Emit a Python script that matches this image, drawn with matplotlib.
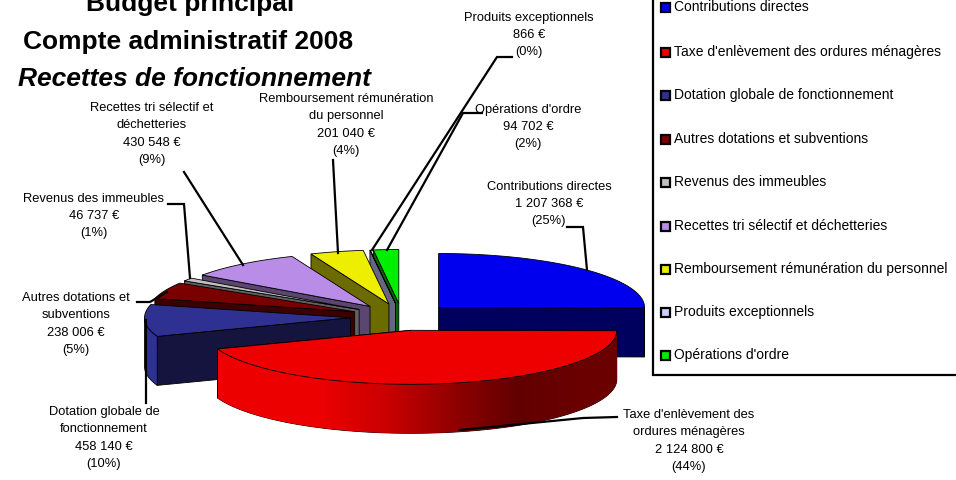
import numpy as np
import matplotlib
matplotlib.use("Agg")
import matplotlib.pyplot as plt
from matplotlib.patches import Polygon, Rectangle

plt.rcParams["font.family"] = ["Liberation Sans", "DejaVu Sans"]

# --- Data ---
categories = ["Contributions directes", "Taxe d'enlèvement des ordures ménagères",
              "Dotation globale de fonctionnement", "Autres dotations et subventions",
              "Revenus des immeubles", "Recettes tri sélectif et déchetteries",
              "Remboursement rémunération du personnel", "Produits exceptionnels",
              "Opérations d'ordre"]
values = [1207368, 2124800, 458140, 238006, 46737, 430548, 201040, 866, 94702]
wrapped = ["Contributions directes", "Taxe d'enlèvement des\nordures ménagères",
           "Dotation globale de\nfonctionnement", "Autres dotations et\nsubventions",
           "Revenus des immeubles", "Recettes tri sélectif et\ndéchetteries",
           "Remboursement rémunération\ndu personnel", "Produits exceptionnels",
           "Opérations d'ordre"]
title_lines = ["Budget principal", "Compte administratif 2008", "Recettes de fonctionnement"]

# --- Colours ---
top_colors = ["#0000EE", "#EE0000", "#2E3192", "#7A0000", "#C0C0C0", "#B98CE8", "#EEEE00", "#CCCCFF", "#00EE00"]
wall_colors = ["#00005F", "#5F0000", "#14143F", "#3D0000", "#606060", "#5A4670", "#6B6B00", "#666680", "#006600"]

# --- Pie geometry (pixels) ---
cx, cy = 402, 317
rx, ry = 206, 54
depth = 49
explode = 0.25

total = sum(values)
edges = np.concatenate([[0], np.cumsum(values)]) / total * 360


def rim(a, x0, y0):
    r = np.radians(a)
    return x0 + rx * np.sin(r), y0 - ry * np.cos(r)


def arc(a1, a2, x0, y0):
    x, y = rim(np.linspace(a1, a2, max(int(a2 - a1) * 2, 2)), x0, y0)
    return list(zip(x, y))


def poly(ax, pts, color, zorder):
    p = Polygon(pts, closed=True, facecolor=color, edgecolor="black", lw=0.6, zorder=zorder)
    ax.add_patch(p)
    return p


fig = plt.figure(figsize=(9.56, 4.8), dpi=100)
ax = fig.add_axes([0, 0, 1, 1])
ax.set_xlim(0, 956)
ax.set_ylim(480, 0)
ax.axis("off")

# back to front, same order as the slices are stacked in the picture
order = [8, 7, 6, 5, 4, 3, 2, 0, 1]
z = 2
for i in order:
    a1, a2 = edges[i], edges[i + 1]
    mid = (a1 + a2) / 2
    x0, y0 = rim(mid, cx, cy)
    x0 = cx + (x0 - cx) * explode
    y0 = cy + (y0 - cy) * explode

    # cut face turned to the viewer
    a = a1 if mid > 180 else a2
    ex, ey = rim(a, x0, y0)
    poly(ax, [(x0, y0), (ex, ey), (ex, ey + depth), (x0, y0 + depth)], wall_colors[i], z)

    # outer wall, only the lower half of the ellipse shows
    lo, hi = max(a1, 90), min(a2, 270)
    if hi > lo:
        pts = arc(lo, hi, x0, y0)
        low = [(px, py + depth) for px, py in pts[::-1]]
        wall = poly(ax, pts + low, top_colors[i], z)
        if i == 1:
            # red wall fades from bright on the left to dark on the right
            grad = np.array([[0.93, 0.93, 0.8, 0.58, 0.38, 0.42]])
            rgb = np.zeros((1, grad.shape[1], 3))
            rgb[..., 0] = grad
            im = ax.imshow(rgb, extent=[218, 618, 440, 320], aspect="auto", zorder=z, interpolation="bilinear")
            im.set_clip_path(wall)
            ax.set_xlim(0, 956)
            ax.set_ylim(480, 0)

    poly(ax, [(x0, y0)] + arc(a1, a2, x0, y0), top_colors[i], z + 0.5)
    z += 1

# --- Title ---
title_x = [190, 188, 194]
title_y = [4, 42, 79]
for line, x, y, st in zip(title_lines, title_x, title_y, ["normal", "normal", "italic"]):
    ax.text(x, y, line, ha="center", va="center", fontsize=19, fontweight="bold", style=st, zorder=30)

# --- Data labels and leader lines ---
label_pos = [(549, 204), (689, 441), (104, 438), (76, 324), (94, 216), (152, 134), (346, 125), (529, 35), (528, 127)]
leaders = [
    [(567, 227), (583, 227), (587, 270)],
    [(617, 417), (583, 418), (460, 430)],
    [(146, 320), (146, 403)],
    [(137, 302), (150, 302), (167, 292)],
    [(168, 204), (184, 204), (190, 278)],
    [(184, 172), (243, 265)],
    [(333, 160), (338, 253)],
    [(512, 57), (497, 57), (372, 250)],
    [(482, 113), (463, 113), (387, 250)],
]
for i in range(len(values)):
    amount = f"{values[i]:,}".replace(",", " ") + " €"
    pct = round(values[i] / total * 100)
    ax.text(label_pos[i][0], label_pos[i][1], f"{wrapped[i]}\n{amount}\n({pct}%)", ha="center", va="center",
            fontsize=9.3, linespacing=1.57, zorder=30)
    xs, ys = zip(*leaders[i])
    ax.plot(xs, ys, color="black", lw=1.6, zorder=20, solid_joinstyle="miter")

# --- Legend box ---
ax.add_patch(Rectangle((653.5, -5), 320, 380, facecolor="white", edgecolor="black", lw=1.6, zorder=25))
legend_y = [7, 52, 95, 139, 182, 226, 269, 312, 355]
for i, y in enumerate(legend_y):
    ax.add_patch(Rectangle((661, y - 4.5), 9, 9, facecolor=top_colors[i], edgecolor="black", lw=1.6, zorder=26))
    ax.text(674, y, categories[i], ha="left", va="center", fontsize=10, zorder=26)

fig.savefig("out.png", dpi=100)
